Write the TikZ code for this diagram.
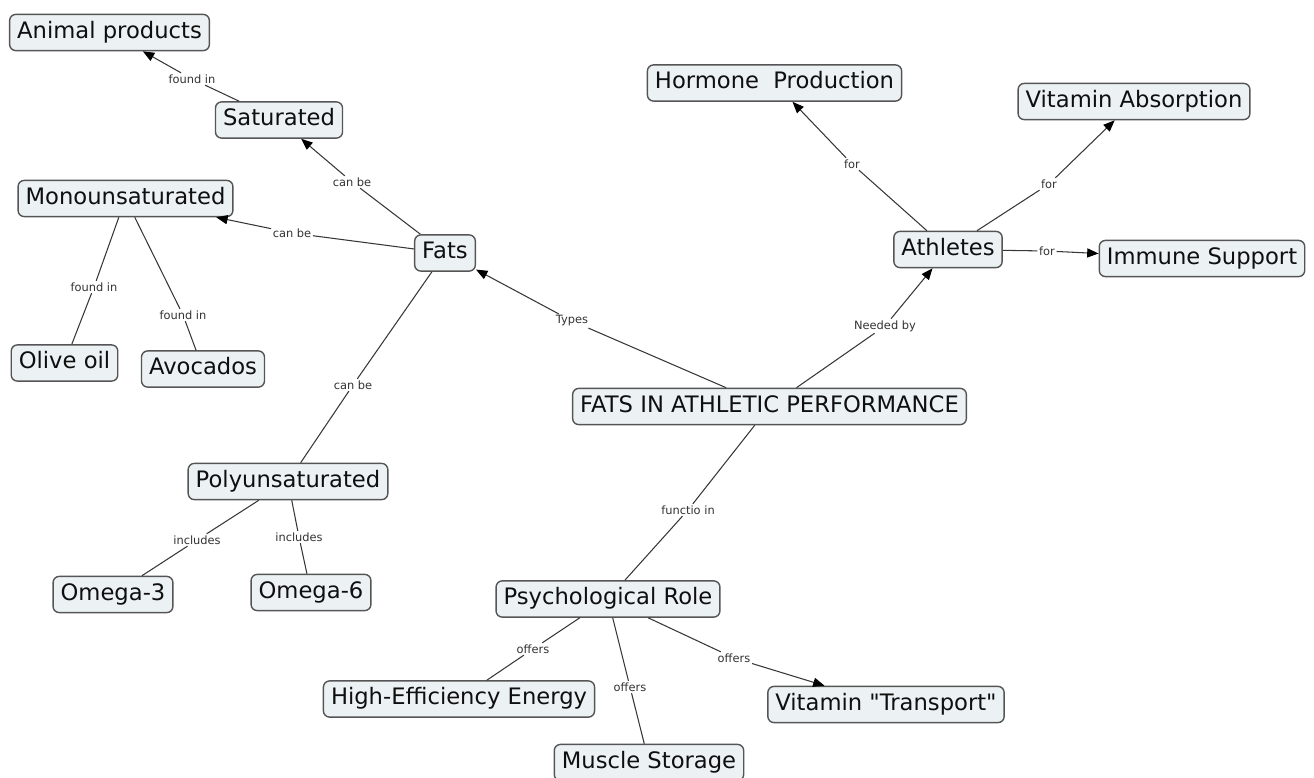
\documentclass[tikz,border=0pt]{standalone}
\usepackage{fontspec}
\setmainfont{DejaVu Sans}
\usetikzlibrary{arrows.meta}
\definecolor{cmapfill}{RGB}{236,242,244}
\definecolor{cmapedge}{RGB}{55,55,55}
\definecolor{cmapborder}{RGB}{85,85,85}
\definecolor{cmaptext}{RGB}{15,15,15}

\begin{document}
\begin{tikzpicture}[x=0.02cm,y=-0.02cm,
  concept/.style={draw=cmapborder,line width=0.8pt,fill=cmapfill,rounded corners=3.5pt,text=cmaptext,
    font=\fontsize{12.9}{14}\selectfont,inner xsep=4.3pt,inner ysep=3.9pt,text height=9.7pt,text depth=3.1pt},
  linkword/.style={fill=white,inner sep=0.8pt,text=cmaptext!85,font=\fontsize{6.5}{7}\selectfont},
  conn/.style={draw=cmapedge,line width=0.6pt},
  tip/.style={conn,-{Triangle[length=6.5pt,width=5.2pt,color=black]}}]
\useasboundingbox (0,0) rectangle (1314,777);

% concepts
\node[concept] (main) at (769.5,406.5) {FATS IN ATHLETIC PERFORMANCE};
\node[concept] (fats) at (445,253) {Fats};
\node[concept] (sat) at (279,120) {Saturated};
\node[concept] (animal) at (109.5,32.5) {Animal products};
\node[concept] (mono) at (125.5,198.5) {Monounsaturated};
\node[concept] (olive) at (64.5,363) {Olive oil};
\node[concept] (avoc) at (203,369) {Avocados};
\node[concept] (poly) at (288,481.5) {Polyunsaturated};
\node[concept] (om3) at (113,594.5) {Omega-3};
\node[concept] (om6) at (311,592.5) {Omega-6};
\node[concept] (athl) at (948,249.5) {Athletes};
\node[concept] (horm) at (774.5,83) {Hormone\ \ Production};
\node[concept] (vitabs) at (1134,101.5) {Vitamin Absorption};
\node[concept] (immune) at (1202,258.5) {Immune Support};
\node[concept] (psych) at (608,599) {Psychological Role};
\node[concept] (energy) at (459,699) {High-Efficiency Energy};
\node[concept] (muscle) at (649,762.5) {Muscle Storage};
\node[concept] (vittrans) at (886,704.5) {Vitamin \textquotedbl Transport\textquotedbl};

% linking words
\node[linkword] (wanimal) at (192,79) {found in};
\node[linkword] (wsat) at (352,182) {can be};
\node[linkword] (wmono) at (292,233) {can be};
\node[linkword] (wpoly) at (353,385) {can be};
\node[linkword] (wolive) at (94,287) {found in};
\node[linkword] (wavoc) at (183,315) {found in};
\node[linkword] (wtypes) at (572,321) {Types};
\node[linkword] (wneeded) at (885,326) {Needed by};
\node[linkword] (whorm) at (852,164) {for};
\node[linkword] (wvitabs) at (1049,184) {for};
\node[linkword] (wimmune) at (1047,251) {for};
\node[linkword] (wfunc) at (688,510) {functio in};
\node[linkword] (wom3) at (197,540) {includes};
\node[linkword] (wom6) at (299,537) {includes};
\node[linkword] (wenergy) at (533,649) {offers};
\node[linkword] (wmuscle) at (630,687) {offers};
\node[linkword] (wvittrans) at (734,658) {offers};

% links with arrow
\foreach \a/\w/\b in {sat/wanimal/animal, fats/wsat/sat, fats/wmono/mono, main/wtypes/fats,
  main/wneeded/athl, athl/whorm/horm, athl/wvitabs/vitabs, athl/wimmune/immune, psych/wvittrans/vittrans}
  {\draw[conn] (\a) -- (\w); \draw[tip] (\w) -- (\b);}
% links without arrow
\foreach \a/\w/\b in {fats/wpoly/poly, mono/wolive/olive, mono/wavoc/avoc, main/wfunc/psych,
  poly/wom3/om3, poly/wom6/om6, psych/wenergy/energy, psych/wmuscle/muscle}
  {\draw[conn] (\a) -- (\w); \draw[conn] (\w) -- (\b);}

\end{tikzpicture}
\end{document}
